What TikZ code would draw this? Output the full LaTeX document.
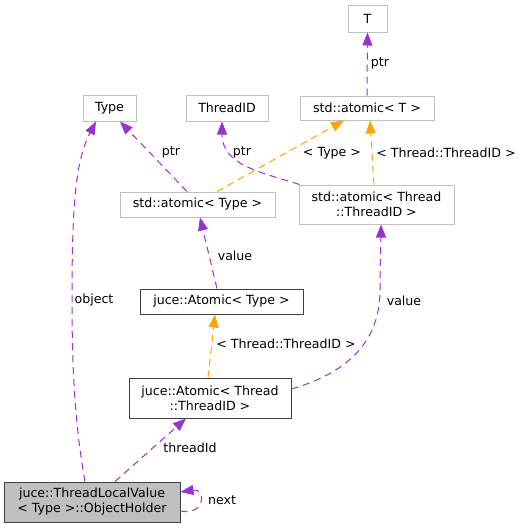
\documentclass[tikz,border=0pt]{standalone}
\usepackage{fontspec}
\setmainfont{DejaVu Sans}
\usetikzlibrary{arrows.meta}
\definecolor{edgepurple}{HTML}{9A32CD}
\definecolor{edgeorange}{HTML}{FFA500}
\definecolor{boxgray}{HTML}{BFBFBF}
\definecolor{boxdark}{HTML}{404040}
\tikzset{
  cls/.style={draw=boxgray, line width=1pt, inner sep=0pt, align=center, font=\fontsize{12.6}{15}\selectfont},
  clsdark/.style={cls, draw=boxdark},
  clsmain/.style={cls, draw=boxdark, fill=boxgray},
  usage/.style={draw=edgepurple, line width=1pt, dash pattern=on 7pt off 5pt, -{Triangle[length=13pt,width=10pt,fill=edgepurple]}},
  tmpl/.style={draw=edgeorange, line width=1pt, dash pattern=on 7pt off 5pt, -{Triangle[length=13pt,width=10pt,fill=edgeorange]}},
  lbl/.style={inner sep=0pt, font=\fontsize{12.6}{15}\selectfont},
}
\begin{document}
\begin{tikzpicture}[x=1pt,y=-1pt]
\useasboundingbox (0,0) rectangle (523,528);
% nodes
\node[cls, minimum width=39pt, minimum height=27pt] (T) at (367.5,18.5) {T};
\node[cls, minimum width=134pt, minimum height=24pt] (satT) at (367,108) {std::atomic< T >};
\node[cls, minimum width=53pt, minimum height=26pt] (Type) at (109.5,108) {Type};
\node[cls, minimum width=82pt, minimum height=26pt] (TID) at (227,108) {ThreadID};
\node[cls, minimum width=155pt, minimum height=25pt] (satType) at (197.5,204.5) {std::atomic< Type >};
\node[cls, minimum width=155pt, minimum height=39pt] (satTID) at (376.5,204.5) {std::atomic< Thread\\::ThreadID >};
\node[clsdark, minimum width=163pt, minimum height=25pt] (jaType) at (221.5,301.5) {juce::Atomic< Type >};
\node[clsdark, minimum width=162pt, minimum height=40pt] (jaTID) at (210,398) {juce::Atomic< Thread\\::ThreadID >};
\node[clsmain, minimum width=176pt, minimum height=40pt] (oh) at (92,502) {juce::ThreadLocalValue\\< Type >::ObjectHolder};
% edges
\draw[usage] (satT.north) -- (T.south);
\node[lbl] (lptrT) at (380,63) {ptr};

\draw[tmpl] ([xshift=19.5pt]satType.north) -- ([xshift=-23pt]satT.south);
\node[lbl] (ltype) at (332,153) {< Type >};

\draw[tmpl] ([xshift=-2.5pt]satTID.north) -- ([xshift=3pt]satT.south);
\node[lbl] (ltid1) at (446,153) {< Thread::ThreadID >};

\draw[usage] ([xshift=-10.5pt]satType.north) -- ([xshift=10.5pt]Type.south);
\node[lbl] (lptr1) at (171,152) {ptr};

\draw[usage] ([xshift=1pt]satTID.north west) .. controls (260,172) and (222,165) .. ([xshift=-5pt]TID.south);
\node[lbl] (lptr2) at (242,152) {ptr};

\draw[usage] ([xshift=-4.5pt]jaType.north) -- ([xshift=2.5pt]satType.south);
\node[lbl] (lval1) at (235,256) {value};

\draw[tmpl] ([xshift=-2pt]jaTID.north) -- ([xshift=-6.5pt]jaType.south);
\node[lbl] (ltid2) at (286,344) {< Thread::ThreadID >};

\draw[usage] ([yshift=9pt]jaTID.east) .. controls (350,372) and (380,340) .. (380,290) .. controls (380,260) and (381,240) .. ([xshift=4.5pt]satTID.south);
\node[lbl] (lval2) at (404,301) {value};

\draw[usage] ([xshift=23pt]oh.north) -- ([xshift=-24pt]jaTID.south);
\node[lbl] (lthr) at (190,448) {threadId};

\draw[usage] ([xshift=-7pt]oh.north) .. controls (74,420) and (72,360) .. (72,300) .. controls (72,200) and (76,160) .. ([xshift=-13.5pt]Type.south);
\node[lbl] (lobj) at (94,300) {object};

\draw[usage] ([yshift=-9pt]oh.east) .. controls (206,516) and (206,488) .. ([yshift=10pt]oh.east);
\node[lbl] (lnext) at (222,500) {next};
\end{tikzpicture}
\end{document}
